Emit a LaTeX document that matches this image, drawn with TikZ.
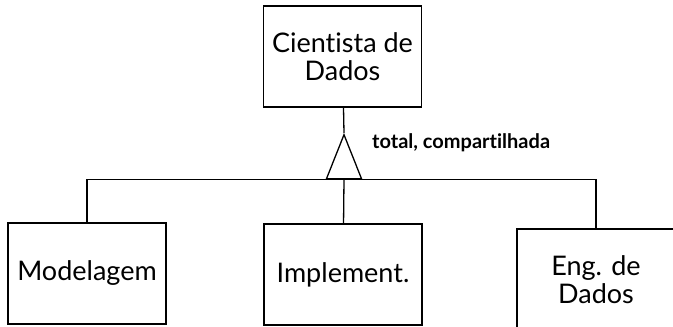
\documentclass[tikz,border=0pt]{standalone}
\usepackage{fontspec}
\setmainfont{Lato}[Ligatures={NoCommon}]
\usetikzlibrary{shapes.geometric,positioning}

\tikzset{
	entidade/.style={draw, line width=1.3pt, minimum width=158pt, minimum height=101pt,
		inner sep=0pt, align=center, font=\fontsize{27}{28}\selectfont},
	heranca/.style={draw, line width=1.3pt, isosceles triangle, isosceles triangle stretches,
		shape border rotate=90, minimum width=35pt, minimum height=44pt, inner sep=0pt},
	ligacao/.style={line width=1.3pt}
}

\begin{document}
\begin{tikzpicture}[x=1pt,y=-1pt]
	\useasboundingbox (0,0) rectangle (673,327);
	\node[entidade] (cientista) at (342.5,56.5) {Cientista de\\Dados};
	\node[heranca, anchor=apex] (isa) at (344,133) {};
	\node[anchor=west, inner sep=0pt, font=\fontsize{20}{22}\selectfont\bfseries] (restricao) at (372,143) {total, compartilhada};
	\node[entidade] (modelagem) at (87,273.5) {Modelagem};
	\node[entidade] (implement) at (343,274.5) {Implement.};
	\node[entidade] (eng) at (596,279.5) {Eng. de\\Dados};
	\draw[ligacao] (cientista) -- (isa.apex);
	\draw[ligacao] (isa.lower side) -- (implement);
	\draw[ligacao] (modelagem) |- (isa.lower side) -| (eng);
\end{tikzpicture}
\end{document}
